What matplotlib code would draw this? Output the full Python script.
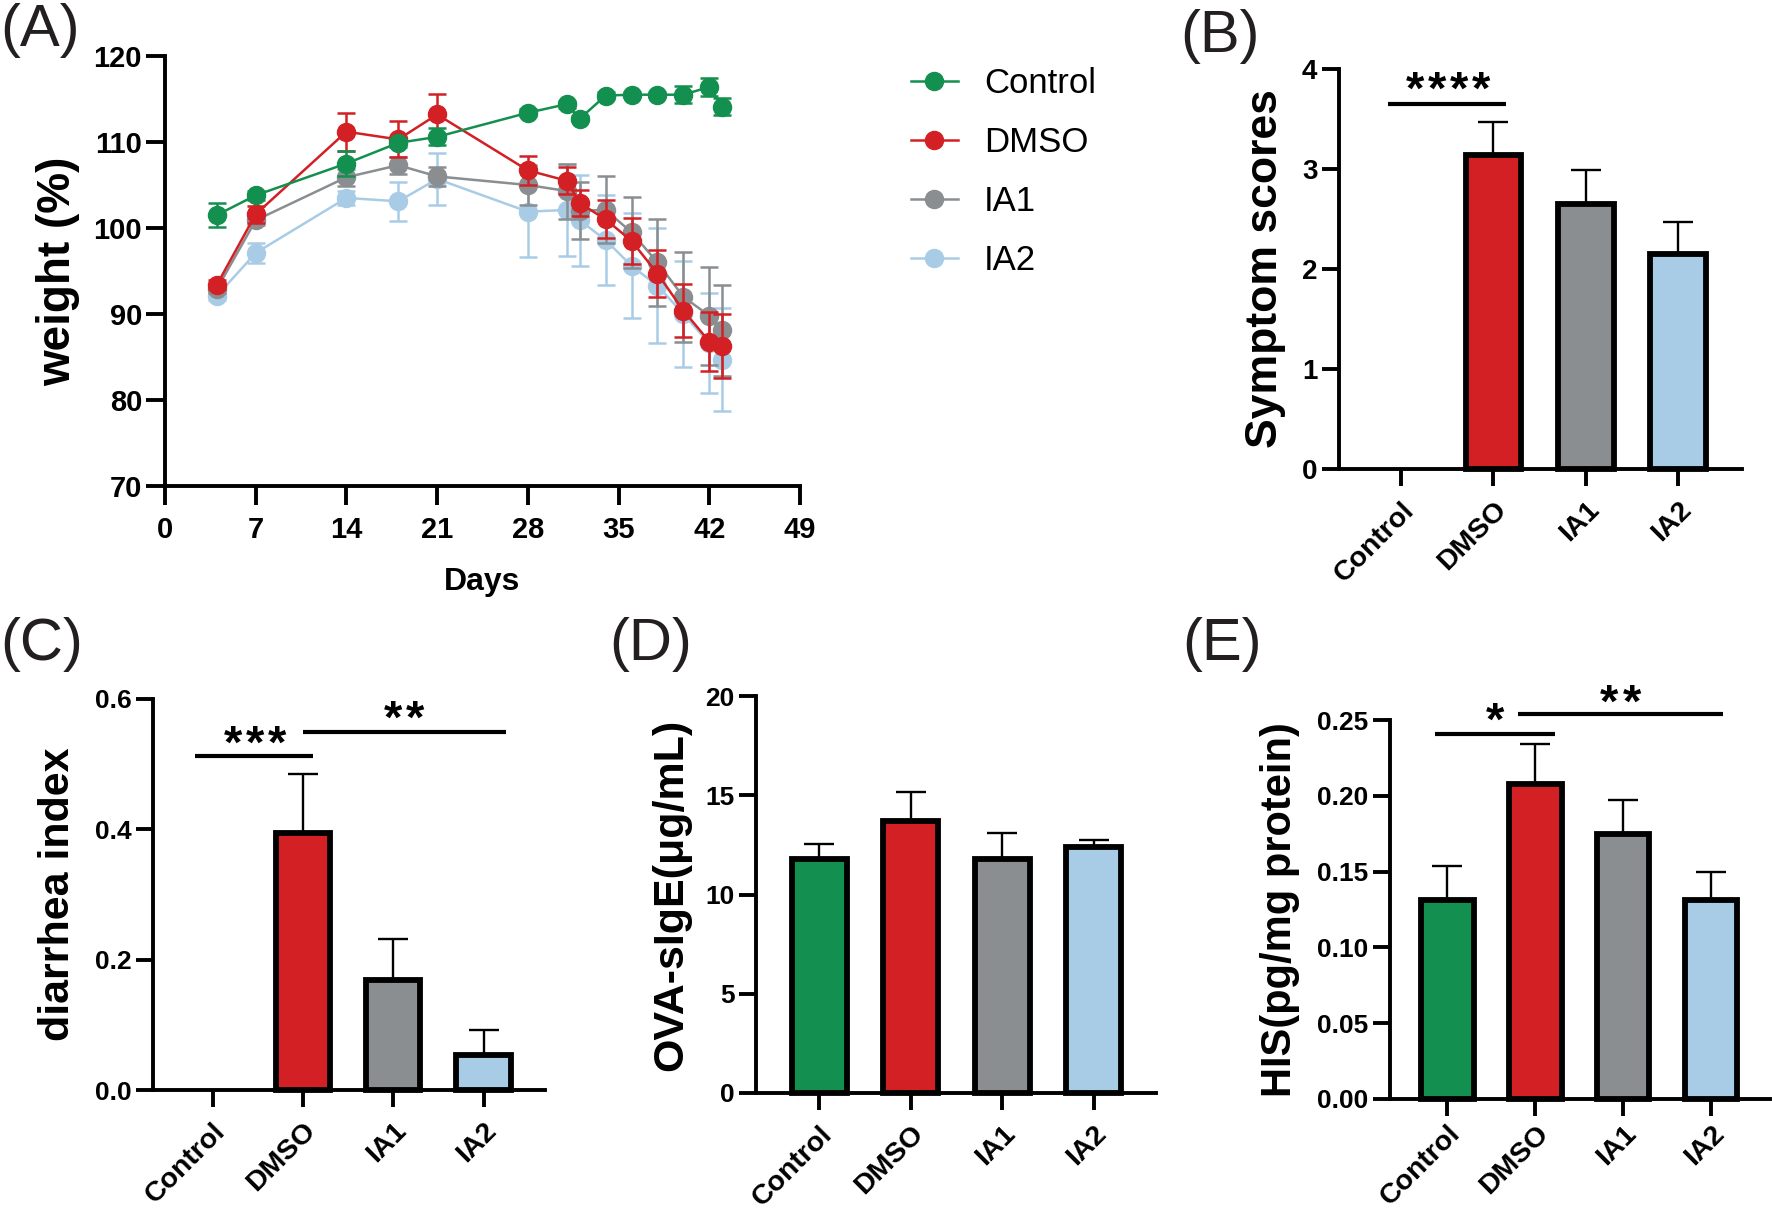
import numpy as np
import matplotlib.pyplot as plt
from matplotlib.lines import Line2D

plt.rcParams['font.family'] = ['Liberation Sans', 'DejaVu Sans']
plt.rcParams['font.weight'] = 'bold'
plt.rcParams['axes.labelweight'] = 'bold'

W, H = 1772, 1210

groups = ['Control', 'DMSO', 'IA1', 'IA2']
colors = ['#13904f', '#d32024', '#8a8e91', '#a9cce6']

# (A) body weight over time
days = [4, 7, 14, 18, 21, 28, 31, 32, 34, 36, 38, 40, 42, 43]
w_control = [101.5, 103.8, 107.5, 109.9, 110.6, 113.4, 114.4, 112.7, 115.4, 115.5, 115.5, 115.5, 116.4, 114.1]
e_control = [1.4, 0.5, 1.4, 0.5, 1.0, 0.4, 0.4, 0.3, 0.4, 0.3, 0.3, 1.0, 1.1, 1.0]
w_dmso = [93.4, 101.6, 111.2, 110.3, 113.2, 106.7, 105.5, 102.9, 101.0, 98.5, 94.7, 90.4, 86.8, 86.3]
e_dmso = [0.5, 1.0, 2.2, 2.1, 2.4, 1.7, 1.6, 1.5, 2.2, 2.7, 2.7, 3.1, 3.4, 3.7]
w_ia1 = [92.9, 100.9, 105.9, 107.3, 106.0, 105.0, 104.3, 102.0, 102.1, 99.5, 96.0, 92.0, 89.8, 88.1]
e_ia1 = [0.5, 0.6, 1.0, 1.0, 1.1, 2.3, 3.2, 3.3, 3.9, 4.1, 5.1, 5.2, 5.7, 5.3]
w_ia2 = [92.1, 97.1, 103.5, 103.1, 105.7, 101.9, 102.1, 100.9, 98.6, 95.6, 93.3, 90.0, 86.6, 84.7]
e_ia2 = [0.5, 1.2, 0.8, 2.3, 3.0, 5.3, 5.4, 5.3, 5.2, 6.1, 6.7, 6.2, 5.8, 6.0]

# (B) symptom scores
sym_mean = [0.0, 3.14, 2.65, 2.15]
sym_err = [0.0, 0.33, 0.34, 0.32]
# (C) diarrhea index
dia_mean = [0.0, 0.394, 0.169, 0.053]
dia_err = [0.0, 0.091, 0.062, 0.039]
# (D) OVA-sIgE
ige_mean = [11.8, 13.7, 11.8, 12.38]
ige_err = [0.74, 1.46, 1.28, 0.39]
# (E) histamine
his_mean = [0.131, 0.208, 0.175, 0.131]
his_err = [0.023, 0.026, 0.022, 0.019]

# significance brackets: (x0, x1, y, label, text x, text y)
sig_b = [(-0.14, 1.14, 3.655, '****', 0.51, 3.92)]
sig_c = [(-0.19, 1.11, 0.513, '***', 0.47, 0.551),
         (1.0, 3.25, 0.549, '**', 2.12, 0.589)]
sig_e = [(-0.14, 1.23, 0.241, '*', 0.55, 0.258),
         (0.81, 3.14, 0.254, '**', 1.97, 0.270)]

fig = plt.figure(figsize=(W / 100, H / 100), dpi=100)


def px_axes(l, t, r, b):
    return fig.add_axes([l / W, 1 - b / H, (r - l) / W, (b - t) / H])


def style(ax, fs, length=12.5):
    for s in ['top', 'right']:
        ax.spines[s].set_visible(False)
    for s in ['left', 'bottom']:
        ax.spines[s].set_linewidth(2.8)
    ax.tick_params(width=2.8, length=length, direction='out', labelsize=fs, pad=3)


def ylab(ax, text, fs, xc, l, r):
    ax.set_ylabel(text, fontsize=fs, va='center')
    ax.yaxis.set_label_coords((xc - l) / (r - l), 0.5)


def stars(ax, s, tx, ty, fs=34, pitch=16):
    # each asterisk placed on its own, with wider spacing than the font gives
    n = len(s)
    for i in range(n):
        dx = (i - (n - 1) / 2) * pitch
        ax.annotate('*', xy=(tx, ty), xytext=(dx, -0.57 * fs), textcoords='offset points',
                    ha='center', va='baseline', fontsize=fs, annotation_clip=False)


def bar_panel(rect, vals, errs, xlim, ylim, yticks, fmt, ylabel, lab_fs, lab_x, ytick_fs, sigs,
              xpad=7.5):
    l, t, r, b = rect
    ax = px_axes(l, t, r, b)
    x = np.arange(len(groups))
    vals = np.array(vals)
    errs = np.array(errs)
    ax.bar(x, vals, width=0.6, color=colors, edgecolor='black',
           linewidth=[4.2 if v > 0 else 0 for v in vals], zorder=3, clip_on=False)
    m = errs > 0
    ax.errorbar(x[m], vals[m], yerr=[np.zeros(m.sum()), errs[m]], fmt='none',
                ecolor='black', elinewidth=1.7, capsize=11, capthick=1.7, zorder=2)
    ax.set_xlim(*xlim)
    ax.set_ylim(*ylim)
    ax.set_yticks(yticks)
    ax.set_yticklabels([fmt.format(v) for v in yticks])
    style(ax, ytick_fs)
    ax.set_xticks(x)
    ax.set_xticklabels(groups, rotation=45, ha='right', va='top',
                       rotation_mode='anchor', fontsize=20.5)
    ax.tick_params(axis='x', pad=xpad)
    ylab(ax, ylabel, lab_fs, lab_x, l, r)
    for x0, x1, y, s, tx, ty in sigs:
        ax.plot([x0, x1], [y, y], color='black', lw=3, clip_on=False, solid_capstyle='butt')
        stars(ax, s, tx, ty)
    return ax


# ---- panel A
l, t, r, b = 165, 56, 800, 486
axA = px_axes(l, t, r, b)
series = [(w_ia2, e_ia2, colors[3], 'IA2', 3),
          (w_ia1, e_ia1, colors[2], 'IA1', 4),
          (w_dmso, e_dmso, colors[1], 'DMSO', 5),
          (w_control, e_control, colors[0], 'Control', 6)]
for vals, errs, c, name, z in series:
    axA.errorbar(days, vals, yerr=errs, color=c, marker='o', ms=13, lw=1.8,
                 elinewidth=1.8, capsize=6.5, capthick=1.8, zorder=z, clip_on=False)
axA.set_xlim(0, 49)
axA.set_ylim(70, 120)
axA.set_xticks(np.arange(0, 50, 7))
axA.set_yticks(np.arange(70, 121, 10))
style(axA, 21, length=13.5)
axA.tick_params(axis='x', pad=8)
axA.set_xlabel('Days', fontsize=23, va='center')
axA.xaxis.set_label_coords(0.5, -(582 - b) / (b - t))
ylab(axA, 'weight (%)', 33, 58, l, r)

handles = [Line2D([], [], color=c, marker='o', ms=13, lw=1.8) for c in colors]
fig.legend(handles, groups, loc='center left', bbox_to_anchor=(911 / W, 1 - 172 / H),
           frameon=False, handlelength=1.35, handletextpad=0.75,
           labelspacing=0.75, borderpad=0, borderaxespad=0,
           prop={'weight': 'normal', 'size': 25})

# ---- panels B-E
bar_panel((1339, 69, 1742, 469), sym_mean, sym_err, (-0.67, 3.69), (0, 4), [0, 1, 2, 3, 4],
          '{:g}', 'Symptom scores', 32, 1265, 20, sig_b)
bar_panel((153, 699, 545, 1090), dia_mean, dia_err, (-0.66, 3.68), (0, 0.6), [0, 0.2, 0.4, 0.6],
          '{:.1f}', 'diarrhea index', 31, 58, 19, sig_c)
bar_panel((756, 696, 1156, 1093), ige_mean, ige_err, (-0.69, 3.68), (0, 20), [0, 5, 10, 15, 20],
          '{:g}', 'OVA-sIgE(μg/mL)', 31, 671, 19, [])
bar_panel((1390, 720, 1770, 1099), his_mean, his_err, (-0.65, 3.67), (0, 0.25),
          [0, 0.05, 0.10, 0.15, 0.20, 0.25], '{:.2f}', 'HIS(pg/mg protein)', 30, 1280, 19, sig_e,
          xpad=3)

# panel letters
for txt, x, y in [('(A)', 0, 3), ('(B)', 1180, 9), ('(C)', 0, 617), ('(D)', 609, 617), ('(E)', 1182, 617)]:
    fig.text(x / W, 1 - y / H, txt, fontsize=43, fontweight='light', color='#231f20',
             ha='left', va='top')

fig.savefig('out.png', dpi=100)
